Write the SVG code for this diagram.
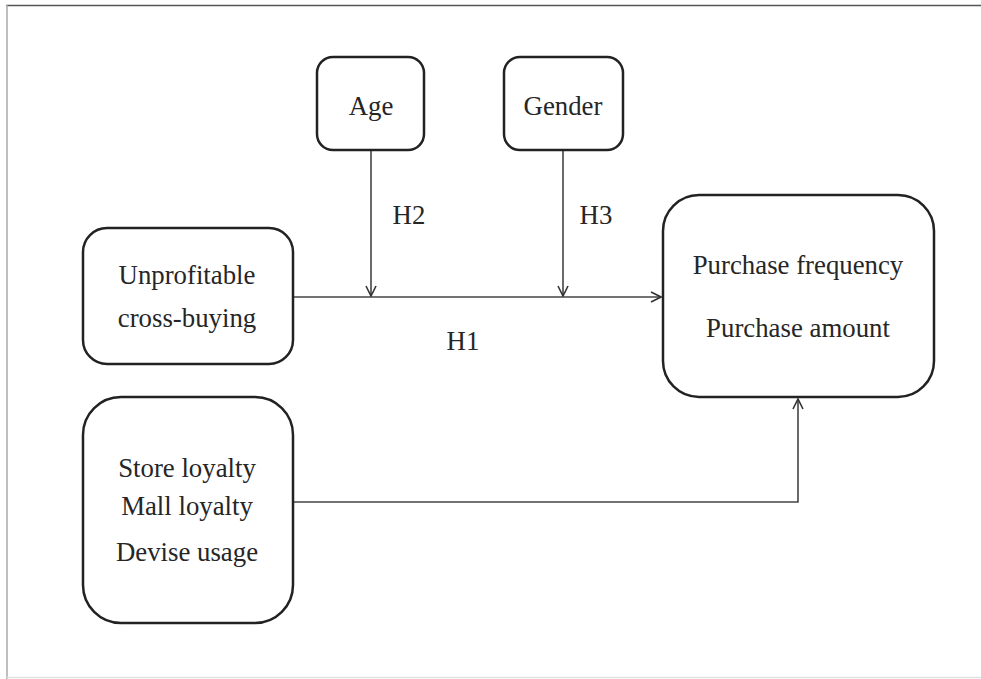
<svg xmlns="http://www.w3.org/2000/svg" width="981" height="679" viewBox="0 0 981 679">
<style>
.box{fill:#fff;stroke:#222;stroke-width:2.5}
.t{font-family:"Liberation Serif","Times New Roman",serif;font-size:26.8px;fill:#262626;text-anchor:middle}
.c{fill:none;stroke:#444;stroke-width:1.6}
.frame{stroke-width:1.5;fill:none}
</style>
<defs>
<marker id="ah" viewBox="0 0 12 12" refX="11" refY="6" markerWidth="12" markerHeight="12" markerUnits="userSpaceOnUse" orient="auto">
<path d="M1,1 L11,6 L1,11" fill="none" stroke="#333" stroke-width="1.6"/>
</marker>
</defs>
<rect width="981" height="679" fill="#fff"/>
<g id="frame">
<line class="frame" x1="6" y1="5.5" x2="981" y2="5.5" stroke="#555"/>
<line class="frame" x1="7" y1="5" x2="7" y2="679" stroke="#aaa"/>
<line class="frame" x1="7" y1="677.5" x2="981" y2="677.5" stroke="#e2e2e2"/>
</g>
<g id="connectors">
<line class="c" x1="293" y1="297" x2="661" y2="297" marker-end="url(#ah)"/>
<line class="c" x1="371" y1="150" x2="371" y2="296" marker-end="url(#ah)"/>
<line class="c" x1="563" y1="150" x2="563" y2="296" marker-end="url(#ah)"/>
<polyline class="c" points="293,502 798,502 798,399" marker-end="url(#ah)"/>
</g>
<g id="labels">
<text class="t" x="409" y="224">H2</text>
<text class="t" x="596" y="224">H3</text>
<text class="t" x="463" y="350">H1</text>
</g>
<g id="age">
<rect class="box" x="317" y="57" width="107" height="93" rx="16"/>
<text class="t" x="371" y="115">Age</text>
</g>
<g id="gender">
<rect class="box" x="504" y="57" width="119" height="93" rx="16"/>
<text class="t" x="563" y="115">Gender</text>
</g>
<g id="unprofitable">
<rect class="box" x="83" y="228" width="210" height="136" rx="24"/>
<text class="t" x="187" y="284">Unprofitable</text>
<text class="t" x="187" y="327">cross-buying</text>
</g>
<g id="purchase">
<rect class="box" x="663" y="195" width="271" height="202" rx="36"/>
<text class="t" x="798" y="274">Purchase frequency</text>
<text class="t" x="798" y="337">Purchase amount</text>
</g>
<g id="loyalty">
<rect class="box" x="83" y="397" width="210" height="226" rx="38"/>
<text class="t" x="187" y="477">Store loyalty</text>
<text class="t" x="187" y="515">Mall loyalty</text>
<text class="t" x="187" y="561">Devise usage</text>
</g>
</svg>
